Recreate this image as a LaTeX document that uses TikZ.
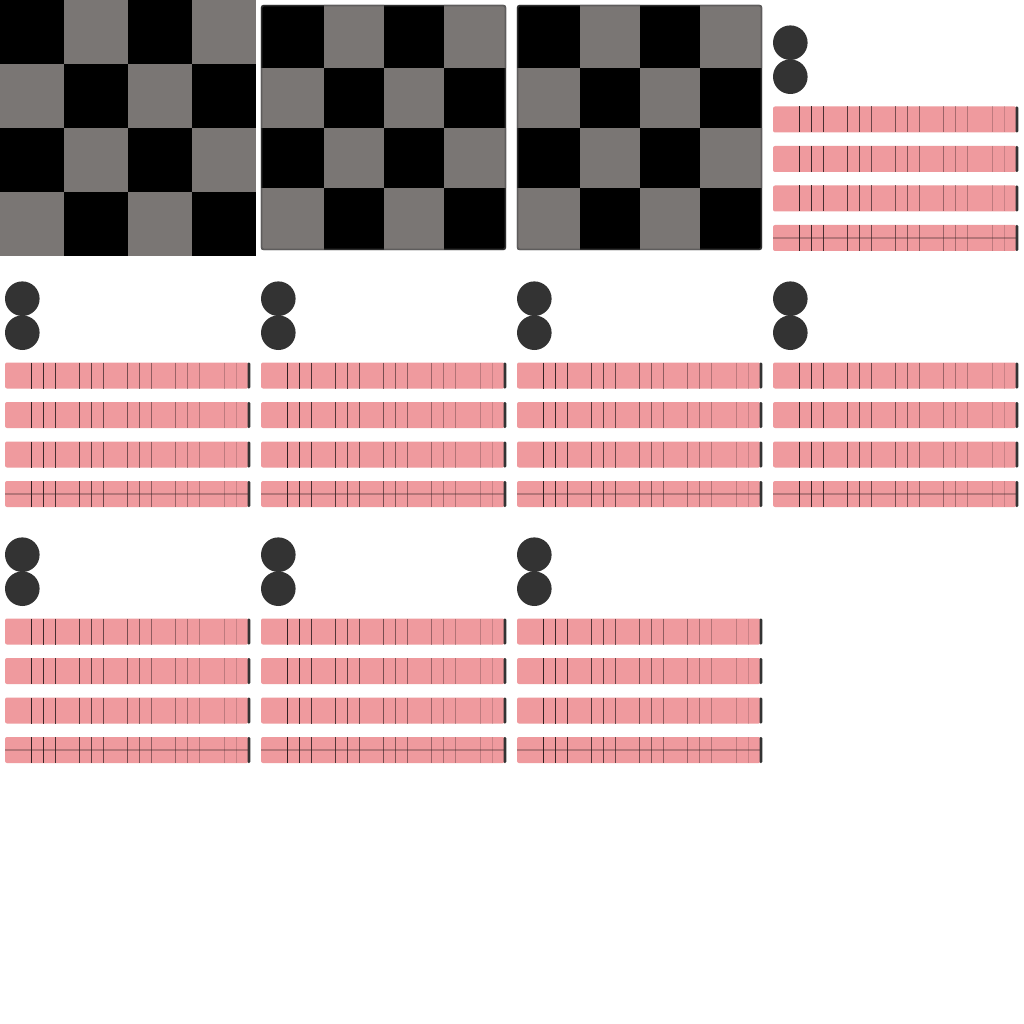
\documentclass[tikz,border=0pt]{standalone}
\definecolor{checkgray}{RGB}{122,118,116}
\definecolor{barpink}{RGB}{239,154,158}
\definecolor{dotgray}{RGB}{51,51,51}
\definecolor{tickdark}{RGB}{50,32,34}
\begin{document}
\begin{tikzpicture}
  [x=0.25mm, y=-0.25mm,
    square/.style={fill=checkgray},
    board/.style={draw=black!70, draw opacity=0.6, line width=0.45mm, rounded corners=0.6mm},
    dot/.style={fill=dotgray},
    bar/.style={fill=barpink, rounded corners=0.5mm},
    tick/.style={draw=tickdark, line width=0.33mm},
  ]
  \useasboundingbox[fill=white] (0,0) rectangle (1024,1024);

  \fill[black] (0,0) rectangle (256,256);
  \foreach \i/\o in {0/1,1/0,2/1,3/0}
    \foreach \j in {0,2}
      \fill[square] ({(\j+\o)*64},{\i*64}) rectangle +(64,64);

  \foreach \cx in {256,512} {
    \begin{scope}[shift={(\cx,0)}]
      \begin{scope}
        \clip[rounded corners=0.6mm] (5,5) rectangle (250,250);
        \fill[black] (5,5) rectangle (250,250);
        \foreach \i/\o in {0/1,1/0,2/1,3/0}
          \foreach \j in {0,2} {
            \pgfmathsetmacro\cc{\j+\o}
            \pgfmathsetmacro\xa{8+60*\cc-8*(\cc==0)}
            \pgfmathsetmacro\xb{68+60*\cc+8*(\cc==3)}
            \pgfmathsetmacro\ya{8+60*\i-8*(\i==0)}
            \pgfmathsetmacro\yb{68+60*\i+8*(\i==3)}
            \fill[square] (\xa,\ya) rectangle (\xb,\yb);
          }
      \end{scope}
      \draw[board] (5.5,5.5) rectangle (249.5,249.5);
    \end{scope}
  }

  \foreach \cx/\cy in {768/0,0/256,256/256,512/256,768/256,0/512,256/512,512/512} {
    \begin{scope}[shift={(\cx,\cy)}]
      \fill[dot] (22.3,42.7) circle (17.3);
      \fill[dot] (22.3,76.7) circle (17.3);
      \foreach \b in {0,...,3} {
        \pgfmathsetmacro\top{106.5+39.5*\b}
        \pgfmathsetmacro\bot{\top+26}
        \fill[bar] (5,\top) rectangle (248.5,\bot);
        \fill[dot, rounded corners=0.3mm] (247.5,\top) rectangle (250.3,\bot);
        \foreach \t [count=\n] in {31.3,43.3,55.3,79.3,91.3,103.3,127.3,139.3,151.3,175.3,187.3,199.3,224.7,236.7}
          \draw[tick, draw opacity={1-0.062*(\n-1)}] (\t,\top) -- (\t,\bot);
        \ifnum\b=3
          \draw[tick, draw opacity=0.3] (5,\top+13) -- (247.5,\top+13);
        \fi
      }
    \end{scope}
  }
\end{tikzpicture}
\end{document}
